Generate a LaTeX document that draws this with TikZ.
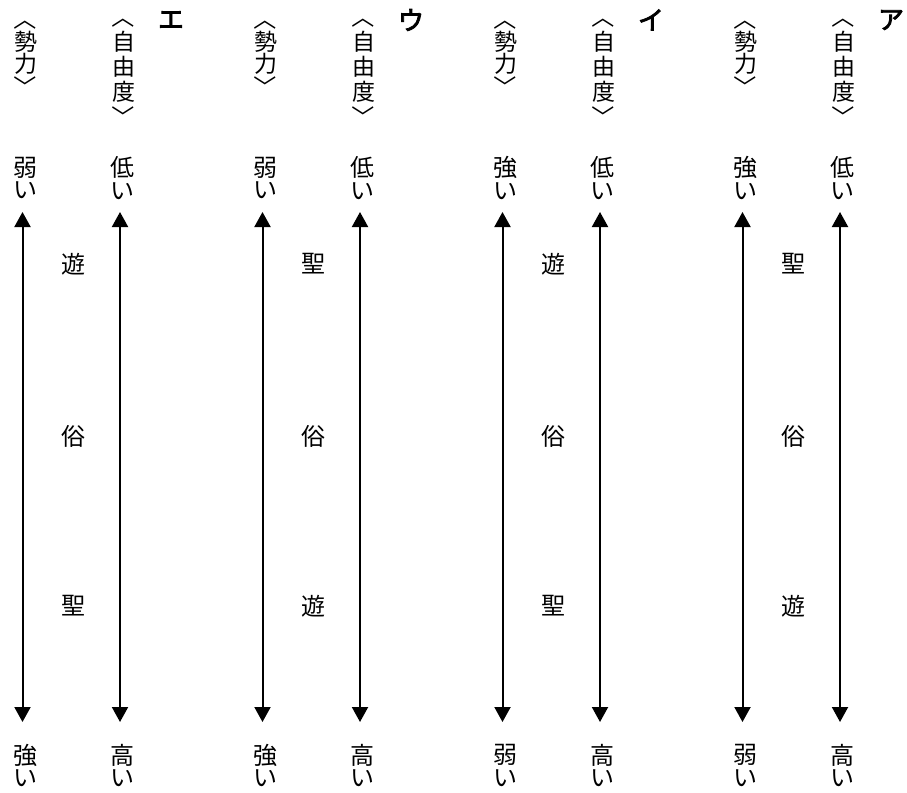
\documentclass[tikz,border=0pt]{standalone}
\usepackage{fontspec}
\usepackage{graphicx}
\setmainfont{Noto Sans CJK JP}[AutoFakeBold=3]
\usetikzlibrary{arrows.meta}
\newcommand{\vlb}{\rotatebox[origin=c]{-90}{〈}}
\newcommand{\vrb}{\rotatebox[origin=c]{-90}{〉}}
\newcommand{\tightls}{\lineskiplimit=-50pt\relax\lineskip=0pt\relax}
\tikzset{
  txt/.style={inner sep=0pt, align=center, font=\fontsize{24}{22.5}\selectfont\tightls},
  hdrw/.style={inner sep=0pt, align=center, font=\fontsize{23}{22.5}\selectfont\tightls},
  hdrj/.style={inner sep=0pt, align=center, font=\fontsize{23}{25}\selectfont\tightls},
  lab/.style={inner sep=0pt, font=\fontsize{26}{26}\selectfont\bfseries},
  dbl/.style={line width=2pt, {Triangle[width=16pt,length=15pt]}-{Triangle[width=16pt,length=15pt]}}
}
\begin{document}
\begin{tikzpicture}[x=1pt,y=-1pt]
\useasboundingbox (0,0) rectangle (907,792);
\foreach \k/\st/\sb/\ma/\mc/\lab in {0/弱/強/遊/聖/エ,1/弱/強/聖/遊/ウ,2/強/弱/遊/聖/イ,3/強/弱/聖/遊/ア}{
  \pgfmathsetmacro{\dx}{240*\k}
  % headers
  \node[hdrw] (hp\k) at (25.5+\dx,53) {\vlb\\勢\\力\\\vrb};
  \node[hdrj] (hf\k) at (123.5+\dx,67) {\vlb\\自\\由\\度\\\vrb};
  \node[lab] (lb\k) at (171+\dx,20) {\lab};
  % top / bottom labels
  \node[txt] (tp\k) at (25+\dx,178) {\st\\い};
  \node[txt] (bp\k) at (25+\dx,765.5) {\sb\\い};
  \node[txt] (tf\k) at (122.5+\dx,178) {低\\い};
  \node[txt] (bf\k) at (122.5+\dx,765.5) {高\\い};
  % middle
  \node[txt] (ma\k) at (73+\dx,264) {\ma};
  \node[txt] (mb\k) at (73+\dx,436) {俗};
  \node[txt] (mc\k) at (73+\dx,606) {\mc};
  % arrows
  \coordinate (pa\k) at (22.5+\dx,212);
  \coordinate (pz\k) at (22.5+\dx,722);
  \coordinate (fa\k) at (120+\dx,212);
  \coordinate (fz\k) at (120+\dx,722);
  \draw[dbl] (pa\k) -- (pz\k);
  \draw[dbl] (fa\k) -- (fz\k);
}
\end{tikzpicture}
\end{document}
